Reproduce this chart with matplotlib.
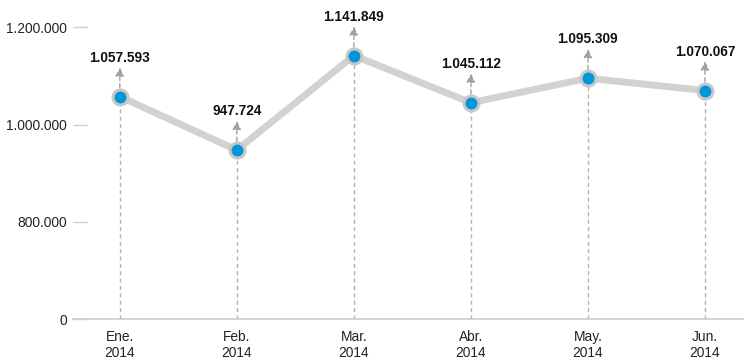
import matplotlib.pyplot as plt
from matplotlib.ticker import FixedLocator

months = ['Ene.\n2014', 'Feb.\n2014', 'Mar.\n2014', 'Abr.\n2014', 'May.\n2014', 'Jun.\n2014']
values = [1057593, 947724, 1141849, 1045112, 1095309, 1070067]
value_labels = ['1.057.593', '947.724', '1.141.849', '1.045.112', '1.095.309', '1.070.067']

# the axis is broken: the bottom tick says "0" but sits where 600.000 would be
ytick_values = [600000, 800000, 1000000, 1200000]
ytick_labels = ['0', '800.000', '1.000.000', '1.200.000']

plt.rcParams['font.family'] = ['Liberation Sans', 'DejaVu Sans']

fig = plt.figure(figsize=(7.5, 3.6), dpi=100)
# axes box: x 73..743 px, y 27.3..319.3 px
ax = fig.add_axes([73 / 750, 1 - 319.3 / 360, 670 / 750, 292 / 360])

xs = list(range(len(values)))
base = ytick_values[0]

# dashed drop lines from the baseline up to each point
ax.vlines(xs, base, values, colors='#b3b3b3', linestyles=(0, (3, 2.3)), lw=1.0, zorder=1)

# main line + markers
ax.plot(xs, values, color='#d2d2d2', lw=5.0, zorder=2, solid_capstyle='round')
ax.plot(xs, values, ls='none', marker='o', ms=10.8, mfc='#0096d9', mec='#c8c8c8', mew=2.2, zorder=3)

for x, v, lab in zip(xs, values, value_labels):
    # short dashed arrow above the point
    ax.annotate('', xy=(x, v), xycoords='data', xytext=(0, 21), textcoords='offset points',
                arrowprops=dict(arrowstyle='<|-,head_length=0.5,head_width=0.25', color='#a0a0a0',
                                lw=1.0, linestyle=(0, (3, 2.3)), shrinkA=0, shrinkB=0),
                zorder=1, annotation_clip=False)
    ax.annotate(lab, xy=(x, v), xytext=(0, 28), textcoords='offset points',
                ha='center', va='center', fontsize=9.8, fontweight='bold', color='#111111',
                annotation_clip=False)

ax.set_xlim(-0.4, 5.325)
ax.set_ylim(ytick_values[0], ytick_values[-1])
ax.set_xticks(xs)
ax.set_xticklabels(months, linespacing=1.2)
ax.yaxis.set_major_locator(FixedLocator(ytick_values))
ax.set_yticklabels(ytick_labels)

for s in ['top', 'right', 'left']:
    ax.spines[s].set_visible(False)
ax.spines['bottom'].set_color('#cccccc')
ax.spines['bottom'].set_linewidth(1.2)

ax.tick_params(axis='y', direction='in', length=10, width=1.0, color='#cccccc',
               pad=4.3, labelsize=9.9, labelcolor='#222222')
ax.tick_params(axis='x', length=0, pad=7.8, labelsize=9.9, labelcolor='#222222')
ax.set_facecolor('white')

fig.savefig('out.png', dpi=100)
